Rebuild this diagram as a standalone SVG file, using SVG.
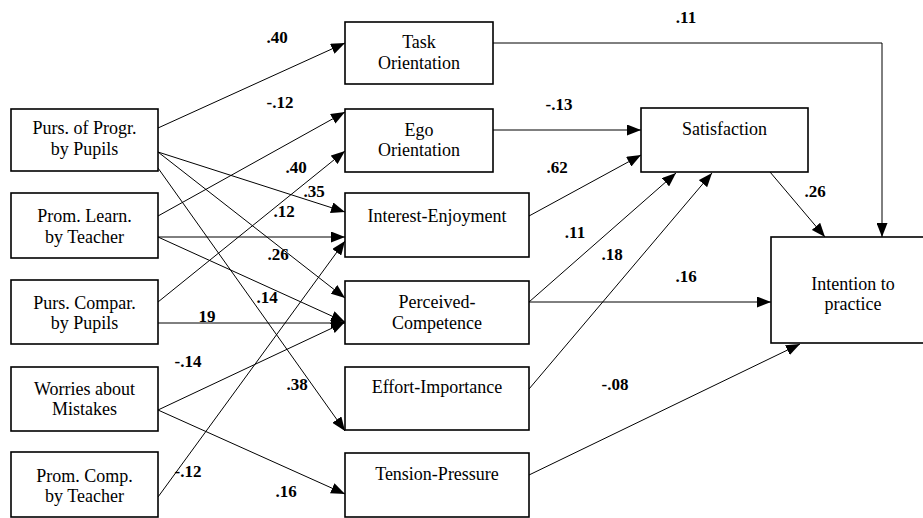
<svg xmlns="http://www.w3.org/2000/svg" width="923" height="518" viewBox="0 0 923 518">
<defs>
<marker id="ah" markerUnits="userSpaceOnUse" markerWidth="14" markerHeight="11" refX="14" refY="5.5" orient="auto">
<path d="M0,0 L14,5.5 L0,11 z" fill="#000"/>
</marker>
<style>
.box{fill:#fff;stroke:#000;stroke-width:1.6}
.t{font-family:"Liberation Serif","Times New Roman",Times,"DejaVu Serif",serif;font-size:18px;text-anchor:middle;fill:#000}
.l{font-family:"Liberation Serif","Times New Roman",Times,"DejaVu Serif",serif;font-size:17px;font-weight:bold;text-anchor:middle;fill:#000}
.c{fill:none;stroke:#000;stroke-width:1;marker-end:url(#ah)}
</style>
</defs>
<rect width="923" height="518" fill="#fff"/>

<g id="connectors">
<line class="c" x1="158" y1="128" x2="345" y2="43"/>
<line class="c" x1="158" y1="152" x2="345" y2="212"/>
<line class="c" x1="158" y1="152" x2="345" y2="298"/>
<line class="c" x1="158" y1="168" x2="345" y2="431"/>
<line class="c" x1="158" y1="216" x2="345" y2="112"/>
<line class="c" x1="158" y1="237" x2="345" y2="237"/>
<line class="c" x1="158" y1="237" x2="345" y2="322"/>
<line class="c" x1="158" y1="302" x2="345" y2="151"/>
<line class="c" x1="158" y1="323" x2="345" y2="323"/>
<line class="c" x1="158" y1="410" x2="345" y2="322"/>
<line class="c" x1="158" y1="410" x2="345" y2="494"/>
<line class="c" x1="158" y1="497" x2="345" y2="241"/>
<polyline class="c" points="493,43 882,43 882,237"/>
<line class="c" x1="493" y1="130" x2="641" y2="130"/>
<line class="c" x1="529" y1="216" x2="641" y2="155"/>
<line class="c" x1="529" y1="302" x2="676" y2="173"/>
<line class="c" x1="529" y1="389" x2="712" y2="173"/>
<line class="c" x1="529" y1="302" x2="771" y2="302"/>
<line class="c" x1="529" y1="475" x2="800" y2="344"/>
<line class="c" x1="770" y1="172" x2="825" y2="237"/>
</g>

<g id="labels">
<text class="l" x="277" y="43">.40</text>
<text class="l" x="280" y="108">-.12</text>
<text class="l" x="296" y="173">.40</text>
<text class="l" x="314" y="197">.35</text>
<text class="l" x="284" y="217">.12</text>
<text class="l" x="278" y="260">.26</text>
<text class="l" x="267" y="303">.14</text>
<text class="l" x="207" y="322">19</text>
<text class="l" x="188" y="367">-.14</text>
<text class="l" x="297" y="390">.38</text>
<text class="l" x="188" y="477">-.12</text>
<text class="l" x="286" y="497">.16</text>
<text class="l" x="686" y="23">.11</text>
<text class="l" x="559" y="110">-.13</text>
<text class="l" x="557" y="173">.62</text>
<text class="l" x="575" y="238">.11</text>
<text class="l" x="612" y="260">.18</text>
<text class="l" x="686" y="282">.16</text>
<text class="l" x="615" y="390">-.08</text>
<text class="l" x="815" y="197">.26</text>
</g>

<g id="purs-progr">
<rect class="box" x="11" y="109" width="147" height="62"/>
<text class="t" x="84.5" y="134">Purs. of Progr.</text>
<text class="t" x="84.5" y="155">by Pupils</text>
</g>
<g id="prom-learn">
<rect class="box" x="11" y="193" width="147" height="65"/>
<text class="t" x="84.5" y="222">Prom. Learn.</text>
<text class="t" x="84.5" y="243">by Teacher</text>
</g>
<g id="purs-compar">
<rect class="box" x="11" y="280" width="147" height="64"/>
<text class="t" x="84.5" y="309">Purs. Compar.</text>
<text class="t" x="84.5" y="329">by Pupils</text>
</g>
<g id="worries">
<rect class="box" x="11" y="367" width="147" height="64"/>
<text class="t" x="84.5" y="395">Worries about</text>
<text class="t" x="84.5" y="415">Mistakes</text>
</g>
<g id="prom-comp">
<rect class="box" x="11" y="452" width="147" height="65"/>
<text class="t" x="84.5" y="482">Prom. Comp.</text>
<text class="t" x="84.5" y="502">by Teacher</text>
</g>

<g id="task">
<rect class="box" x="345" y="22" width="148" height="62"/>
<text class="t" x="419" y="48">Task</text>
<text class="t" x="419" y="69">Orientation</text>
</g>
<g id="ego">
<rect class="box" x="345" y="109" width="148" height="63"/>
<text class="t" x="419" y="136">Ego</text>
<text class="t" x="419" y="156">Orientation</text>
</g>
<g id="interest">
<rect class="box" x="345" y="193" width="184" height="64"/>
<text class="t" x="437" y="222">Interest-Enjoyment</text>
</g>
<g id="perceived">
<rect class="box" x="345" y="281" width="184" height="63"/>
<text class="t" x="437" y="308">Perceived-</text>
<text class="t" x="437" y="329">Competence</text>
</g>
<g id="effort">
<rect class="box" x="345" y="367" width="184" height="63"/>
<text class="t" x="437" y="393">Effort-Importance</text>
</g>
<g id="tension">
<rect class="box" x="345" y="453" width="184" height="64"/>
<text class="t" x="437" y="480">Tension-Pressure</text>
</g>

<g id="satisfaction">
<rect class="box" x="641" y="108" width="167" height="64"/>
<text class="t" x="724.5" y="135">Satisfaction</text>
</g>
<g id="intention">
<rect class="box" x="771" y="237" width="170" height="106"/>
<text class="t" x="853" y="290">Intention to</text>
<text class="t" x="853" y="310">practice</text>
</g>
</svg>
